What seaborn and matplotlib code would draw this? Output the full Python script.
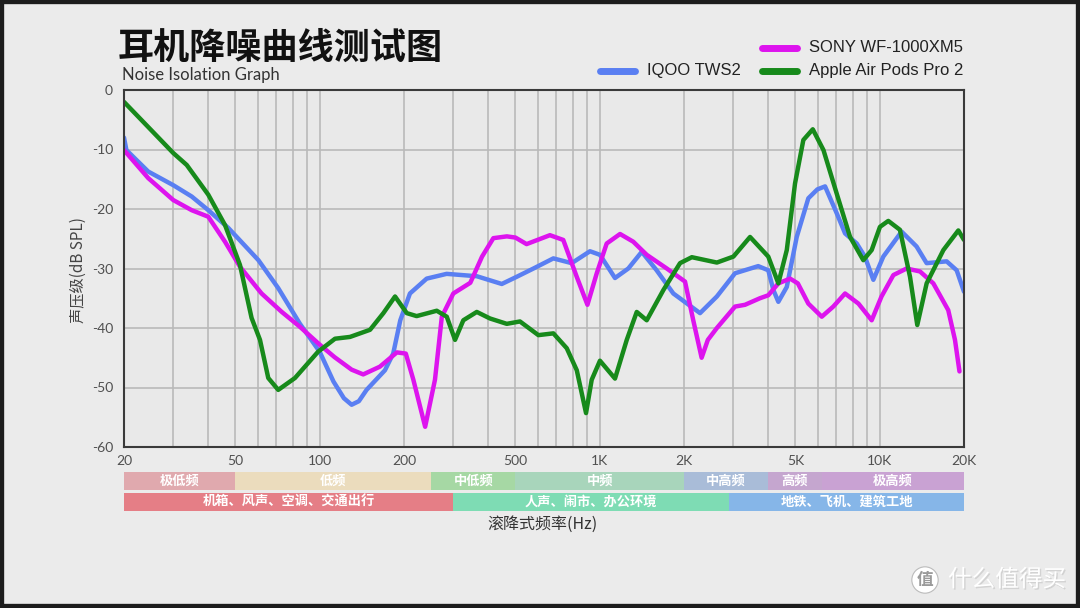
import numpy as np
import pandas as pd
import matplotlib
matplotlib.use("Agg")
import matplotlib.pyplot as plt
import seaborn as sns
import matplotlib.transforms as mtransforms
import matplotlib.patheffects as pe
from matplotlib.lines import Line2D
from matplotlib.patches import Rectangle

# ---- data (Hz, dB SPL) ----
iqoo_freq = [20, 20.4, 24.4, 30, 34.9, 40, 47.2, 60.4, 71.1, 85, 100, 112, 122, 130, 138,
             147, 171, 183, 194, 210, 241, 284, 364, 447, 505, 580, 683, 794, 923, 1002,
             1134, 1265, 1413, 1597, 1832, 2282, 2621, 3043, 3682, 4000, 4170, 4345, 4657,
             5054, 5560, 5990, 6380, 7020, 7520, 8280, 8850, 9490, 10300, 11970, 13540,
             14710, 17340, 18830, 20000]
iqoo_db = [-8.0, -10.1, -13.7, -16.0, -17.9, -20.2, -23.2, -28.6, -33.3, -39.3, -44.0, -49.0,
           -51.8, -52.9, -52.3, -50.4, -47.1, -44.3, -38.7, -34.2, -31.7, -30.9, -31.3, -32.6,
           -31.4, -30.0, -28.3, -29.1, -27.1, -27.7, -31.6, -30.0, -27.2, -30.3, -34.2, -37.5,
           -34.7, -30.8, -29.6, -30.3, -33.6, -35.6, -33.1, -24.7, -18.2, -16.7, -16.2, -20.7,
           -24.1, -25.8, -28.0, -31.9, -28.0, -23.8, -26.3, -29.1, -28.8, -30.3, -33.9]

sony_freq = [20, 24.4, 30, 34.9, 40, 45.9, 51.9, 62, 73.2, 85, 100, 113, 130, 143, 164,
             188.6, 203, 216, 238, 258, 273, 300, 345, 380, 417, 466, 500, 548, 664, 741,
             828, 904, 976, 1059, 1182, 1318, 1472, 1736, 2017, 2158, 2312, 2433, 2621,
             3043, 3303, 3734, 4000, 4345, 4785, 5100, 5560, 6210, 6826, 7520, 8396, 9361,
             10150, 11190, 12480, 13930, 15540, 17570, 18570, 19270]
sony_db = [-10.1, -14.8, -18.5, -20.2, -21.3, -25.5, -29.7, -34.2, -37.3, -39.8, -42.8, -44.9,
           -47.0, -47.8, -46.5, -44.1, -44.3, -48.7, -56.6, -48.7, -38.1, -34.2, -32.4, -28.0,
           -24.9, -24.6, -24.8, -25.9, -24.4, -25.2, -31.4, -36.1, -30.8, -25.8, -24.2, -25.5,
           -27.7, -30.0, -32.2, -38.7, -45.0, -42.0, -40.0, -36.4, -36.1, -35.0, -34.5, -32.5,
           -31.7, -32.5, -35.9, -38.1, -36.4, -34.2, -35.9, -38.7, -34.7, -31.1, -30.0, -30.5,
           -32.5, -37.0, -42.0, -47.3]

apple_freq = [20, 30, 33.5, 40, 45.9, 51.9, 57.1, 61.2, 65.5, 71.1, 81.6, 98.6, 113.4, 128.3,
              151.3, 168.8, 185.8, 204.6, 221.9, 261.8, 284.3, 304.3, 325.8, 363.9, 405.7,
              465.6, 519, 603.9, 683.2, 762.6, 828.1, 893.6, 936.3, 1002, 1134, 1249, 1356,
              1472, 1689, 1936, 2133, 2621, 3002, 3443, 4000, 4345, 4657, 4984, 5337, 5767,
              6297, 7020, 7836, 8737, 9361, 10020, 10730, 11810, 12830, 13620, 14710, 16880,
              19090, 20000]
apple_db = [-2.0, -10.6, -12.6, -17.6, -22.7, -29.4, -38.3, -42.0, -48.4, -50.4, -48.4, -44.0,
            -41.8, -41.5, -40.3, -37.5, -34.7, -37.5, -38.0, -37.1, -38.1, -42.0, -38.7, -37.3,
            -38.4, -39.3, -38.9, -41.2, -40.9, -43.4, -47.1, -54.3, -48.7, -45.5, -48.5, -42.0,
            -37.3, -38.7, -33.6, -29.1, -28.1, -29.0, -28.0, -24.7, -28.0, -32.5, -26.9, -15.7,
            -8.4, -6.6, -10.1, -17.4, -24.7, -28.6, -26.9, -23.0, -22.0, -23.5, -31.4, -39.5,
            -32.5, -26.9, -23.6, -25.2]

models = ["IQOO TWS2", "SONY WF-1000XM5", "Apple Air Pods Pro 2"]
colors = ["#5a7ff2", "#dd14ee", "#178a1b"]

x_ticks = [20, 50, 100, 200, 500, 1000, 2000, 5000, 10000, 20000]
x_tick_labels = ["20", "50", "100", "200", "500", "1K", "2K", "5K", "10K", "20K"]
x_minor = [30, 40, 60, 70, 80, 90, 300, 400, 600, 700, 800, 900,
           3000, 4000, 6000, 7000, 8000, 9000]
y_ticks = [0, -10, -20, -30, -40, -50, -60]

band_edges = [20, 50, 250, 500, 2000, 4000, 6200, 20000]
band_names = ["极低频", "低频", "中低频", "中频", "中高频", "高频", "极高频"]
band_colors = ["#e0a9ae", "#ebdcbd", "#a6d8a4", "#a8d5bb", "#a9bcd8", "#c5a6cf", "#c9a2d3"]

scene_edges = [20, 300, 2900, 20000]
scene_names = ["机箱、风声、空调、交通出行", "人声、闹市、办公环境", "地铁、飞机、建筑工地"]
scene_colors = ["#e57e86", "#7edcb4", "#86b6e8"]

df = pd.concat([
    pd.DataFrame({"freq": iqoo_freq, "db": iqoo_db, "model": models[0]}),
    pd.DataFrame({"freq": sony_freq, "db": sony_db, "model": models[1]}),
    pd.DataFrame({"freq": apple_freq, "db": apple_db, "model": models[2]}),
])

sns.set_theme(style="white")
plt.rcParams["font.family"] = ["Lato", "Noto Sans CJK SC", "DejaVu Sans"]
cjk = ["Noto Sans CJK SC", "DejaVu Sans"]

fig = plt.figure(figsize=(10.8, 6.08), dpi=100, facecolor="#ebebeb")
ax = fig.add_axes([124 / 1080, 1 - 447 / 608, 840 / 1080, 357 / 608])
ax.set_facecolor("#e9e9e9")

sns.lineplot(data=df, x="freq", y="db", hue="model", hue_order=models,
             palette=dict(zip(models, colors)), linewidth=3.2, legend=False,
             estimator=None, sort=False, ax=ax,
             solid_capstyle="round", solid_joinstyle="round")

ax.set_xscale("log")
ax.set_xlim(20, 20000)
ax.set_ylim(-60, 0)
ax.set_xticks(x_ticks)
ax.set_xticklabels(x_tick_labels)
ax.set_xticks(x_minor, minor=True)
ax.set_xticklabels([], minor=True)
ax.set_yticks(y_ticks)
ax.set_yticklabels([str(v) for v in y_ticks])
ax.set_xlabel("")
ax.set_ylabel("")
ax.grid(True, which="both", axis="both", color="#b9b9b9", lw=1.2)
ax.tick_params(axis="both", which="both", length=0, labelsize=10,
               labelcolor="#505050")
ax.tick_params(axis="x", pad=6)
ax.tick_params(axis="y", pad=8)
for sp in ax.spines.values():
    sp.set_color("#3a3a3a")
    sp.set_linewidth(1.5)

# frequency band strips under the axis
trans = mtransforms.blended_transform_factory(ax.transData, ax.transAxes)
def strip(edges, names, cols, y0, h):
    for f0, f1, name, c in zip(edges[:-1], edges[1:], names, cols):
        ax.add_patch(Rectangle((f0, y0), f1 - f0, h, transform=trans,
                               clip_on=False, color=c, lw=0))
        ax.text(np.sqrt(f0 * f1), y0 + h / 2, name, transform=trans,
                ha="center", va="center", color="white", fontsize=9.5,
                weight="bold", family=cjk, clip_on=False)

strip(band_edges, band_names, band_colors, -0.120, 0.050)
strip(scene_edges, scene_names, scene_colors, -0.179, 0.050)

# titles and labels
fig.text(118 / 1080, 1 - 48 / 608, "耳机降噪曲线测试图", fontsize=26,
         weight="black", family=cjk, va="center", color="#111111")
fig.text(122 / 1080, 1 - 75 / 608, "Noise Isolation Graph", fontsize=12,
         va="center", color="#333333")
fig.text(78 / 1080, 1 - 270 / 608, "声压级(dB SPL)", rotation=90, fontsize=11,
         family=cjk, weight="light", ha="center", va="center", color="#444444")
fig.text(543 / 1080, 1 - 524 / 608, "滚降式频率(Hz)", fontsize=11.5,
         family=cjk, weight="light", ha="center", va="center", color="#333333")

# legend
leg_pos = [(600, 71), (762, 48), (762, 71)]
for (lx, ly), name, c in zip(leg_pos, models, colors):
    fig.add_artist(Line2D([lx / 1080, (lx + 35) / 1080], [1 - ly / 608] * 2,
                          color=c, lw=5, solid_capstyle="round"))
    fig.text((lx + 47) / 1080, 1 - ly / 608, name, fontsize=12,
             family=["Liberation Sans"], va="center", color="#222222")

# watermark
fig.text(925 / 1080, 1 - 580 / 608, "值", fontsize=12, family=cjk, weight="bold",
         ha="center", va="center", color="#9a9a9a",
         bbox=dict(boxstyle="circle,pad=0.25", fc="white", ec="#bbbbbb", lw=0.8))
fig.text(948 / 1080, 1 - 580 / 608, "什么值得买", fontsize=17, family=cjk,
         ha="left", va="center", color="white",
         path_effects=[pe.withSimplePatchShadow(offset=(1, -1), shadow_rgbFace="#999999")])

fig.add_artist(Rectangle((0, 0), 1, 1, transform=fig.transFigure, fill=False,
                         edgecolor="#1c1c1c", lw=6))

fig.savefig("out.png", dpi=100, facecolor=fig.get_facecolor())
